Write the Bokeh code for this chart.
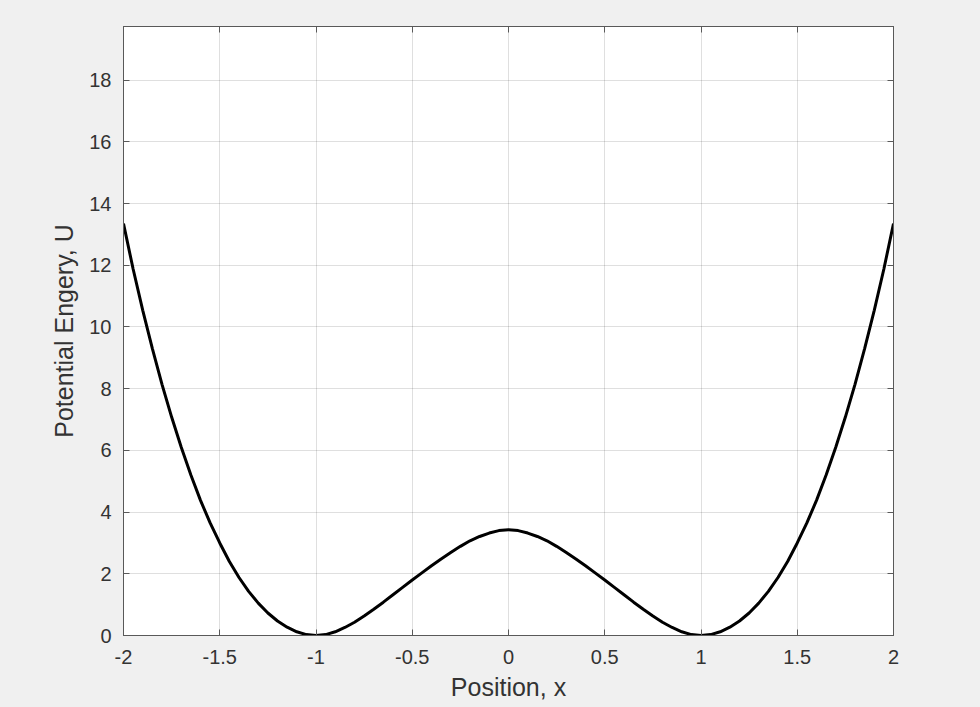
from bokeh.plotting import figure
from bokeh.models import Range1d, FixedTicker, LinearAxis, CustomJSTickFormatter
from bokeh.embed import file_html
from bokeh.resources import INLINE

# Data
x_pos = [-2.00, -1.95, -1.90, -1.85, -1.80, -1.75, -1.70, -1.65, -1.60, -1.55,
         -1.50, -1.45, -1.40, -1.35, -1.30, -1.25, -1.20, -1.15, -1.10, -1.05,
         -1.00, -0.95, -0.90, -0.85, -0.80, -0.75, -0.70, -0.65, -0.60, -0.55,
         -0.50, -0.45, -0.40, -0.35, -0.30, -0.25, -0.20, -0.15, -0.10, -0.05,
         0.00, 0.05, 0.10, 0.15, 0.20, 0.25, 0.30, 0.35, 0.40, 0.45,
         0.50, 0.55, 0.60, 0.65, 0.70, 0.75, 0.80, 0.85, 0.90, 0.95,
         1.00, 1.05, 1.10, 1.15, 1.20, 1.25, 1.30, 1.35, 1.40, 1.45,
         1.50, 1.55, 1.60, 1.65, 1.70, 1.75, 1.80, 1.85, 1.90, 1.95, 2.00]
u_vals = [13.35, 11.88, 10.54, 9.30, 8.14, 7.08, 6.10, 5.20, 4.38, 3.65,
          3.00, 2.40, 1.88, 1.43, 1.05, 0.73, 0.47, 0.27, 0.12, 0.03,
          0.00, 0.03, 0.12, 0.26, 0.43, 0.63, 0.85, 1.08, 1.32, 1.56,
          1.80, 2.03, 2.26, 2.48, 2.69, 2.89, 3.07, 3.21, 3.32, 3.40,
          3.43, 3.40, 3.32, 3.21, 3.07, 2.89, 2.69, 2.48, 2.26, 2.03,
          1.80, 1.56, 1.32, 1.08, 0.85, 0.63, 0.43, 0.26, 0.12, 0.03,
          0.00, 0.03, 0.12, 0.27, 0.47, 0.73, 1.05, 1.43, 1.88, 2.40,
          3.00, 3.65, 4.38, 5.20, 6.10, 7.08, 8.14, 9.30, 10.54, 11.88, 13.35]
x_ticks = [-2, -1.5, -1, -0.5, 0, 0.5, 1, 1.5, 2]
y_ticks = [0, 2, 4, 6, 8, 10, 12, 14, 16, 18]
x_limits = (-2, 2)
y_limits = (0, 19.74)

FONT = "Liberation Sans"
AX_COL = "#595959"
TXT_COL = "#333333"

p = figure(width=980, height=707, output_backend="svg", toolbar_location=None,
           x_range=Range1d(*x_limits), y_range=Range1d(*y_limits),
           min_border_left=123, min_border_right=87, min_border_top=26,
           min_border_bottom=72)
p.background_fill_color = "white"
p.border_fill_color = "#f0f0f0"
p.outline_line_color = AX_COL

xt = FixedTicker(ticks=x_ticks)
yt = FixedTicker(ticks=y_ticks)

for g, t in ((p.xgrid, xt), (p.ygrid, yt)):
    g.ticker = t
    g.grid_line_color = "#262626"
    g.grid_line_alpha = 0.15
    g.grid_line_width = 1


def style_axis(ax, ticker):
    ax.ticker = ticker
    ax.axis_line_color = AX_COL
    ax.major_tick_line_color = AX_COL
    ax.major_tick_in = 6
    ax.major_tick_out = 0
    ax.minor_tick_line_color = None
    ax.major_label_text_font = FONT
    ax.major_label_text_font_size = "20px"
    ax.major_label_text_color = TXT_COL
    ax.axis_label_text_font = FONT
    ax.axis_label_text_font_size = "25px"
    ax.axis_label_text_font_style = "normal"
    ax.axis_label_text_color = TXT_COL


style_axis(p.xaxis[0], xt)
style_axis(p.yaxis[0], yt)
p.xaxis[0].formatter = CustomJSTickFormatter(code="return tick.toString();")
p.xaxis[0].axis_label = "Position, x"
p.xaxis[0].major_label_standoff = 14
p.xaxis[0].axis_label_standoff = 6
p.yaxis[0].axis_label = "Potential Engery, U"
p.yaxis[0].major_label_standoff = 12
p.yaxis[0].axis_label_standoff = 8

blank = "return '';"
top = LinearAxis()
style_axis(top, xt)
top.formatter = CustomJSTickFormatter(code=blank)
top.major_label_standoff = 0
p.add_layout(top, "above")
right = LinearAxis()
style_axis(right, yt)
right.formatter = CustomJSTickFormatter(code=blank)
right.major_label_standoff = 0
p.add_layout(right, "right")

p.line(x_pos, u_vals, line_color="black", line_width=3)

html = file_html(p, INLINE)
i = html.rfind("<body")
j = html.find(">", i)
html = html[:j] + ' style="background-color:#f0f0f0;"' + html[j:]
open("out.html", "w").write(html)
